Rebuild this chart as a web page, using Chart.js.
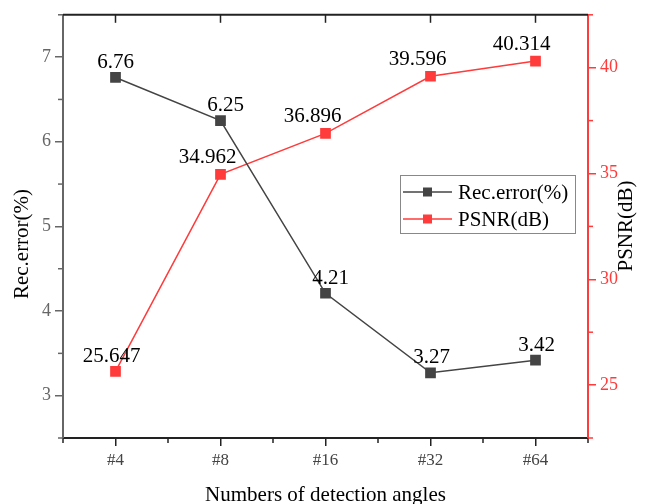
<!DOCTYPE html>
<html>
<head>
<meta charset="utf-8">
<script src="https://cdn.jsdelivr.net/npm/chart.js@4.4.0/dist/chart.umd.min.js"></script>
<style>
  html, body { margin: 0; padding: 0; background: #fff; }
  #wrap { width: 648px; height: 504px; }
</style>
</head>
<body>
<div id="wrap"><canvas id="myChart" width="648" height="504"></canvas></div>
<script>
// data
var categories = ['#4', '#8', '#16', '#32', '#64'];
var recError = [6.76, 6.25, 4.21, 3.27, 3.42];
var psnr = [25.647, 34.962, 36.896, 39.596, 40.314];
var recTicks = [3, 4, 5, 6, 7];
var psnrTicks = [25, 30, 35, 40];

var SERIF = '"Liberation Serif", "DejaVu Serif", serif';
var GREY = '#444444';
var RED = '#ff3b3b';

// label nudges (px) per series, so the numbers sit like in the original
var labelShift = {
  0: [[0, -15], [5, -15], [5, -15], [1, -15], [1, -15]],
  1: [[-4, -15], [-13, -17], [-13, -17], [-13, -17], [-14, -17]]
};

// frame, minor ticks, axis titles, value labels and legend box
var decor = {
  id: 'decor',
  afterDraw: function (chart) {
    var ctx = chart.ctx, a = chart.chartArea;
    var x = chart.scales.x, y = chart.scales.y, y1 = chart.scales.y1;
    ctx.save();
    // top border with inward ticks
    ctx.strokeStyle = '#222';
    ctx.lineWidth = 2;
    ctx.beginPath();
    ctx.moveTo(a.left, a.top); ctx.lineTo(a.right, a.top);
    ctx.stroke();
    ctx.lineWidth = 1.5;
    categories.forEach(function (c, i) {
      var px = x.getPixelForValue(i);
      ctx.beginPath(); ctx.moveTo(px, a.top); ctx.lineTo(px, a.top + 8); ctx.stroke();
    });
    // minor ticks on x (between categories)
    for (var i = 0; i <= categories.length; i++) {
      var mx = x.getPixelForValue(i - 0.5);
      ctx.beginPath(); ctx.moveTo(mx, a.bottom); ctx.lineTo(mx, a.bottom + 5); ctx.stroke();
    }
    // minor ticks on left axis
    ctx.strokeStyle = '#666';
    [2.5, 3.5, 4.5, 5.5, 6.5, 7.5].forEach(function (v) {
      var py = y.getPixelForValue(v);
      ctx.beginPath(); ctx.moveTo(a.left, py); ctx.lineTo(a.left - 5, py); ctx.stroke();
    });
    // minor ticks on right axis
    ctx.strokeStyle = RED;
    [22.5, 27.5, 32.5, 37.5, 42.5].forEach(function (v) {
      var py = y1.getPixelForValue(v);
      ctx.beginPath(); ctx.moveTo(a.right, py); ctx.lineTo(a.right + 5, py); ctx.stroke();
    });

    // y axis titles, both read bottom to top
    ctx.fillStyle = '#000';
    ctx.font = '21px ' + SERIF;
    ctx.textAlign = 'center';
    ctx.textBaseline = 'middle';
    [['Rec.error(%)', 22, 244], ['PSNR(dB)', 626, 226]].forEach(function (t) {
      ctx.save();
      ctx.translate(t[1], t[2]);
      ctx.rotate(-Math.PI / 2);
      ctx.fillText(t[0], 0, 0);
      ctx.restore();
    });

    // value labels
    chart.data.datasets.forEach(function (ds, di) {
      var meta = chart.getDatasetMeta(di);
      meta.data.forEach(function (pt, j) {
        var s = labelShift[di][j];
        ctx.fillText(String(ds.data[j]), pt.x + s[0], pt.y + s[1]);
      });
    });

    // legend box
    var lx = 400, ly = 175, lw = 175, lh = 58;
    ctx.strokeStyle = '#888';
    ctx.lineWidth = 1;
    ctx.strokeRect(lx + 0.5, ly + 0.5, lw, lh);
    ctx.textAlign = 'left';
    chart.data.datasets.forEach(function (ds, di) {
      var ry = ly + 17 + di * 27;
      ctx.strokeStyle = ds.borderColor;
      ctx.lineWidth = 1.5;
      ctx.beginPath(); ctx.moveTo(lx + 3, ry); ctx.lineTo(lx + 52, ry); ctx.stroke();
      ctx.fillStyle = ds.pointBackgroundColor;
      ctx.fillRect(lx + 23, ry - 4.5, 9, 9);
      ctx.fillStyle = '#000';
      ctx.fillText(ds.label, lx + 58, ry + 1);
    });
    ctx.restore();
  }
};

new Chart(document.getElementById('myChart').getContext('2d'), {
  type: 'line',
  data: {
    labels: categories,
    datasets: [{
      label: 'Rec.error(%)',
      data: recError,
      yAxisID: 'y',
      borderColor: GREY,
      backgroundColor: GREY,
      pointBackgroundColor: GREY,
      pointBorderColor: GREY,
      borderWidth: 1.5,
      pointStyle: 'rect',
      pointRadius: 6.5,
      tension: 0
    }, {
      label: 'PSNR(dB)',
      data: psnr,
      yAxisID: 'y1',
      borderColor: RED,
      backgroundColor: RED,
      pointBackgroundColor: RED,
      pointBorderColor: RED,
      borderWidth: 1.5,
      pointStyle: 'rect',
      pointRadius: 6.5,
      tension: 0
    }]
  },
  options: {
    responsive: false,
    animation: false,
    layout: { padding: { top: 14, left: 0, right: 0, bottom: 0 } },
    plugins: { legend: { display: false }, tooltip: { enabled: false } },
    scales: {
      x: {
        offset: true,
        grid: { drawOnChartArea: false, offset: false, tickLength: 8, color: '#222', lineWidth: 1.5 },
        border: { color: '#222', width: 2 },
        ticks: { color: GREY, font: { family: SERIF, size: 17 }, padding: 4, maxRotation: 0 },
        title: { display: true, text: 'Numbers of detection angles', color: '#000',
                 font: { family: SERIF, size: 21 }, padding: { top: 15, bottom: -4 } },
        afterFit: function (s) { s.height = 66; }
      },
      y: {
        position: 'left',
        min: 2.5, max: 7.5,
        afterBuildTicks: function (s) { s.ticks = recTicks.map(function (v) { return { value: v }; }); },
        grid: { drawOnChartArea: false, tickLength: 8, color: '#666', lineWidth: 1.5 },
        border: { color: '#666', width: 2 },
        ticks: { color: '#666', font: { family: SERIF, size: 18 }, padding: 4 },
        afterFit: function (s) { s.width = 63; }
      },
      y1: {
        position: 'right',
        min: 22.5, max: 42.5,
        afterBuildTicks: function (s) { s.ticks = psnrTicks.map(function (v) { return { value: v }; }); },
        grid: { drawOnChartArea: false, tickLength: 8, color: RED, lineWidth: 1.5 },
        border: { color: RED, width: 2 },
        ticks: { color: RED, font: { family: SERIF, size: 18 }, padding: 4 },
        afterFit: function (s) { s.width = 60; }
      }
    }
  },
  plugins: [decor]
});
</script>
</body>
</html>
